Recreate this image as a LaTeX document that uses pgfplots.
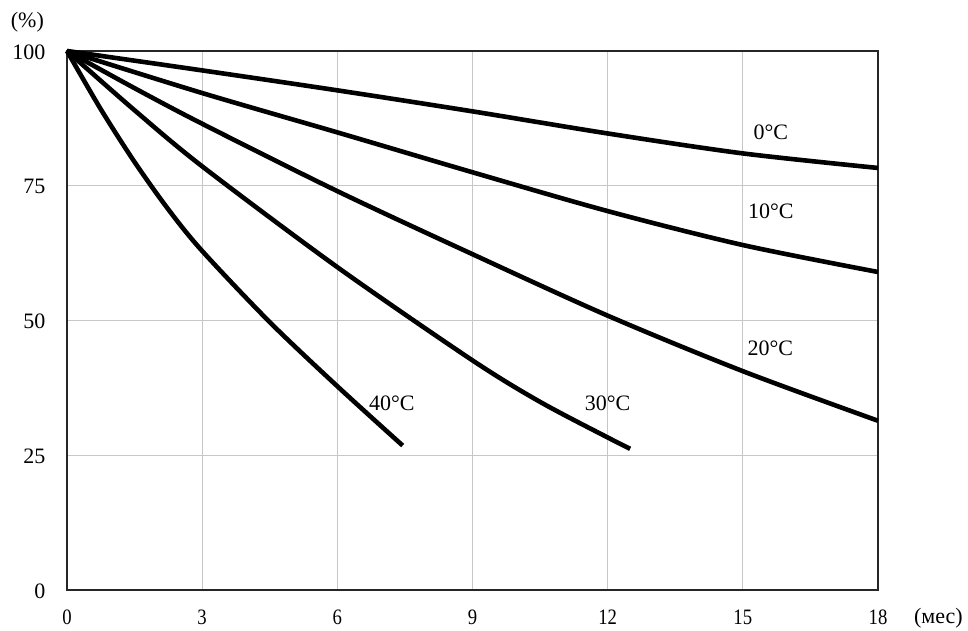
\documentclass[border=0pt]{standalone}
\usepackage{fontspec}
\setmainfont{Liberation Serif}
\newfontfamily\xtickfont[FakeStretch=0.85]{Liberation Serif}
\usepackage{pgfplots}
\pgfplotsset{compat=1.18}
\usetikzlibrary{calc}
\begin{document}
\fontsize{22}{24}\selectfont
\begin{tikzpicture}
\begin{axis}[
  scale only axis, width=811pt, height=539pt,
  xmin=0, xmax=18, ymin=0, ymax=100,
  xtick={0,3,...,18}, ytick={0,25,...,100},
  grid=major, grid style={draw=black!22, line width=1pt},
  axis line style={line width=1.5pt, draw=black!85},
  major tick length=0pt, tick style={draw=none},
  /pgf/number format/assume math mode=true,
  xticklabel style={yshift=-12.5pt, font=\xtickfont},
  yticklabel style={xshift=-14pt, yshift=-1pt},
  clip=false,
]
\addplot[black, line width=4.6pt, smooth] coordinates {(0,100)(3,96.4)(6,92.7)(9,88.8)(12,84.7)(15,81.0)(18,78.3)};
\addplot[black, line width=4.6pt, smooth] coordinates {(0,100)(3,92.2)(6,84.9)(9,77.5)(12,70.3)(15,64.0)(18,59.0)};
\addplot[black, line width=4.6pt, smooth] coordinates {(0,100)(1.5,93.1)(3,86.5)(6,74.0)(9,62.3)(12,50.9)(15,40.6)(18,31.4)};
\addplot[black, line width=4.6pt, smooth] coordinates {(0,100)(1.5,89.0)(3,78.6)(6,59.9)(9,42.6)(10.5,34.9)(12,28.3)(12.5,26.2)};
\addplot[black, line width=4.6pt, smooth] coordinates {(0,100)(0.75,89.2)(1.5,79.4)(2.25,70.6)(3,62.9)(4.5,49.7)(6,37.8)(7.45,26.8)};
\node at (axis cs:15.62,85.0) {0°C};
\node at (axis cs:15.62,70.2) {10°C};
\node at (axis cs:15.61,44.8) {20°C};
\node at (axis cs:12.0,34.6) {30°C};
\node at (axis cs:7.21,34.6) {40°C};
\node at (axis cs:-0.88,105.3) {(\%)};
\node at (axis cs:19.34,-5.2) {(мес)};
\coordinate (sw) at (rel axis cs:0,0);
\coordinate (ne) at (rel axis cs:1,1);
\end{axis}
\pgfresetboundingbox
\useasboundingbox ($(sw)+(-67pt,-40pt)$) rectangle ($(ne)+(90pt,51pt)$);
\end{tikzpicture}
\end{document}
